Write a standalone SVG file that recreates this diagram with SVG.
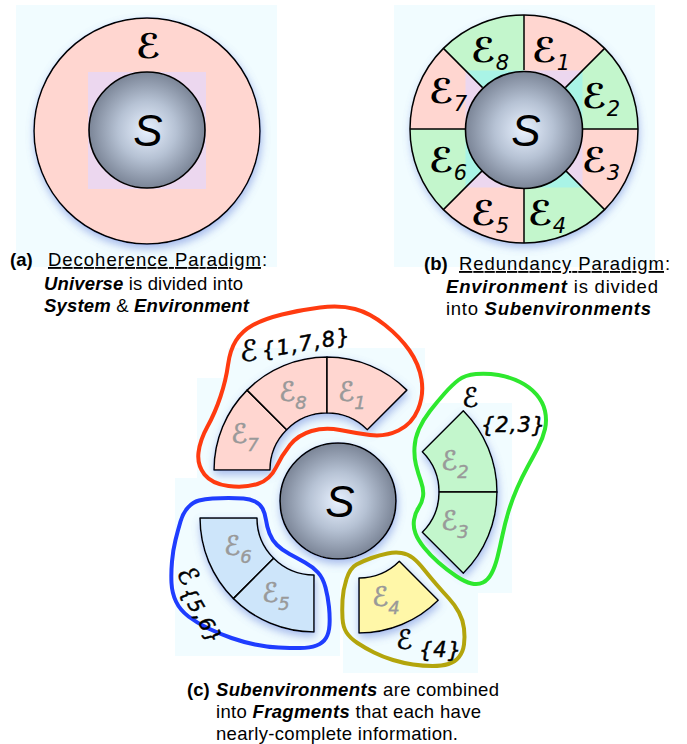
<svg xmlns="http://www.w3.org/2000/svg" width="687" height="744" viewBox="0 0 687 744">
<style>
.bg{fill:#f1fcff}
.pk{fill:#ffd6d0}
.gr{fill:#c3f6cc}
.seg{stroke:#000;stroke-width:1.5;stroke-linejoin:round}
.div{stroke:#000;stroke-width:1.5}
.sc{fill:url(#sg);stroke:#000;stroke-width:1.6}
.S{font-family:"Liberation Sans",Arial,sans-serif;font-style:italic;font-size:44px;text-anchor:middle;fill:#000}
.E{font-family:"DejaVu Sans",sans-serif;fill:#000}
.Eb{font-size:34px;font-weight:bold}
.sb{font-size:21px;font-style:italic}
.Eg{font-size:27px;fill:#999;stroke:#999;stroke-width:0.6}
.sg{font-size:18px;font-style:italic;fill:#999;stroke:#999;stroke-width:0.4}
.hw{stroke:#000;stroke-width:0.5}
.cap{font-family:"Liberation Sans",Arial,sans-serif;font-size:18.5px;fill:#000}
.bi{font-weight:bold;font-style:italic}
.blob{fill:none;stroke-width:4;stroke-linejoin:round}
</style>
<defs>
<radialGradient id="sg" cx="50%" cy="50%" r="50%">
<stop offset="0" stop-color="#e8f1ff"/>
<stop offset="0.5" stop-color="#b6c2d4"/>
<stop offset="1" stop-color="#7b8597"/>
</radialGradient>
<filter id="sh" x="-25%" y="-25%" width="150%" height="160%">
<feGaussianBlur in="SourceAlpha" stdDeviation="4"/>
<feOffset dx="1" dy="4" result="b"/>
<feFlood flood-color="#5a78d8" flood-opacity="0.5"/>
<feComposite in2="b" operator="in"/>
<feMerge><feMergeNode/><feMergeNode in="SourceGraphic"/></feMerge>
</filter>
<clipPath id="sqb"><rect x="465.5" y="70.5" width="117" height="117"/></clipPath>
<path id="w1" d="M524,129 L524,15 A114,114 0 0 1 604.6,48.4 Z"/>
<path id="w2" d="M524,129 L604.6,48.4 A114,114 0 0 1 638,129 Z"/>
<path id="w3" d="M524,129 L638,129 A114,114 0 0 1 604.6,209.6 Z"/>
<path id="w4" d="M524,129 L604.6,209.6 A114,114 0 0 1 524,243 Z"/>
<path id="w5" d="M524,129 L524,243 A114,114 0 0 1 443.4,209.6 Z"/>
<path id="w6" d="M524,129 L443.4,209.6 A114,114 0 0 1 410,129 Z"/>
<path id="w7" d="M524,129 L410,129 A114,114 0 0 1 443.4,48.4 Z"/>
<path id="w8" d="M524,129 L443.4,48.4 A114,114 0 0 1 524,15 Z"/>
</defs>

<!-- backgrounds -->
<g id="backgrounds">
<rect class="bg" x="16" y="5" width="261" height="262"/>
<rect class="bg" x="394" y="5" width="261" height="262"/>
<rect class="bg" x="228" y="348" width="197" height="32"/>
<rect class="bg" x="197" y="378" width="228" height="100"/>
<rect class="bg" x="262" y="430" width="250" height="150"/>
<rect class="bg" x="405" y="403" width="107" height="190"/>
<rect class="bg" x="175" y="478" width="165" height="178"/>
<rect class="bg" x="343" y="545" width="135" height="128"/>
</g>

<!-- panel (a) -->
<g id="panel-a">
<g id="a-env">
<circle class="pk seg" cx="147" cy="131" r="113" filter="url(#sh)"/>
<text class="E" x="136" y="58" font-size="34" font-weight="bold">ℰ</text>
</g>
<rect x="88" y="72" width="118" height="117" fill="#ecd7ef"/>
<g id="a-system">
<circle class="sc" cx="147" cy="130" r="58"/>
<text class="S" x="148" y="146">S</text>
</g>
</g>

<!-- panel (b) -->
<g id="panel-b">
<g id="b-ring" filter="url(#sh)">
<use href="#w1" class="pk"/><use href="#w2" class="gr"/><use href="#w3" class="pk"/><use href="#w4" class="gr"/>
<use href="#w5" class="pk"/><use href="#w6" class="gr"/><use href="#w7" class="pk"/><use href="#w8" class="gr"/>
</g>
<g clip-path="url(#sqb)">
<use href="#w1" fill="#ecd7ef"/><use href="#w2" fill="#a9f4e6"/><use href="#w3" fill="#ecd7ef"/><use href="#w4" fill="#a9f4e6"/>
<use href="#w5" fill="#ecd7ef"/><use href="#w6" fill="#a9f4e6"/><use href="#w7" fill="#ecd7ef"/><use href="#w8" fill="#a9f4e6"/>
</g>
<g class="div">
<line x1="524" y1="70" x2="524" y2="15"/>
<line x1="565.4" y1="87.6" x2="604.6" y2="48.4"/>
<line x1="582.5" y1="129" x2="638" y2="129"/>
<line x1="565.4" y1="170.4" x2="604.6" y2="209.6"/>
<line x1="524" y1="188" x2="524" y2="243"/>
<line x1="482.6" y1="170.4" x2="443.4" y2="209.6"/>
<line x1="465.5" y1="129" x2="410" y2="129"/>
<line x1="482.6" y1="87.6" x2="443.4" y2="48.4"/>
</g>
<circle cx="524" cy="129" r="114" fill="none" stroke="#000" stroke-width="1.5"/>
<g id="b-labels" class="E">
<text x="471" y="62"><tspan class="Eb">ℰ</tspan><tspan class="sb" dy="8">8</tspan></text>
<text x="532" y="62"><tspan class="Eb">ℰ</tspan><tspan class="sb" dy="8">1</tspan></text>
<text x="429" y="103"><tspan class="Eb">ℰ</tspan><tspan class="sb" dy="8">7</tspan></text>
<text x="582" y="108"><tspan class="Eb">ℰ</tspan><tspan class="sb" dy="8">2</tspan></text>
<text x="429" y="172"><tspan class="Eb">ℰ</tspan><tspan class="sb" dy="8">6</tspan></text>
<text x="582" y="172"><tspan class="Eb">ℰ</tspan><tspan class="sb" dy="8">3</tspan></text>
<text x="471" y="225"><tspan class="Eb">ℰ</tspan><tspan class="sb" dy="8">5</tspan></text>
<text x="528" y="225"><tspan class="Eb">ℰ</tspan><tspan class="sb" dy="8">4</tspan></text>
</g>
<g id="b-system">
<circle class="sc" cx="524" cy="130" r="58.5"/>
<text class="S" x="526" y="146">S</text>
</g>
</g>

<!-- panel (c) -->
<g id="panel-c">
<g id="c-system" filter="url(#sh)">
<circle class="sc" cx="338" cy="501" r="58"/>
</g>
<text class="S" x="340" y="517">S</text>

<g id="frag-178" filter="url(#sh)">
<path class="pk seg" d="M214,470 A113,113 0 0 1 247.1,390.1 L286.7,429.7 A57,57 0 0 0 270,470 Z"/>
<path class="pk seg" d="M247.1,390.1 A113,113 0 0 1 327,357 L327,413 A57,57 0 0 0 286.7,429.7 Z"/>
<path class="pk seg" d="M327,357 A113,113 0 0 1 406.9,390.1 L367.3,429.7 A57,57 0 0 0 327,413 Z"/>
</g>
<g id="frag-23" filter="url(#sh)">
<path class="gr seg" d="M463.3,410.7 A115,115 0 0 1 497,492 L439,492 A57,57 0 0 0 422.3,451.7 Z"/>
<path class="gr seg" d="M497,492 A115,115 0 0 1 463.3,573.3 L422.3,532.3 A57,57 0 0 0 439,492 Z"/>
</g>
<g id="frag-4" filter="url(#sh)">
<path class="seg" fill="#fff7a8" d="M438.2,600.2 A112,112 0 0 1 359,633 L359,578 A57,57 0 0 0 399.3,561.3 Z"/>
</g>
<g id="frag-56" filter="url(#sh)">
<path class="seg" fill="#cde5fa" d="M200,518 L257,518 A57,57 0 0 0 273.7,558.3 L233.4,598.6 A114,114 0 0 1 200,518 Z"/>
<path class="seg" fill="#cde5fa" d="M233.4,598.6 L273.7,558.3 A57,57 0 0 0 314,575 L314,632 A114,114 0 0 1 233.4,598.6 Z"/>
</g>

<g id="c-piece-labels" class="E">
<text x="231" y="443"><tspan class="Eg">ℰ</tspan><tspan class="sg" dy="8">7</tspan></text>
<text x="279" y="401"><tspan class="Eg">ℰ</tspan><tspan class="sg" dy="8">8</tspan></text>
<text x="338" y="401"><tspan class="Eg">ℰ</tspan><tspan class="sg" dy="8">1</tspan></text>
<text x="441" y="470"><tspan class="Eg">ℰ</tspan><tspan class="sg" dy="8">2</tspan></text>
<text x="441" y="530"><tspan class="Eg">ℰ</tspan><tspan class="sg" dy="8">3</tspan></text>
<text x="224" y="555"><tspan class="Eg">ℰ</tspan><tspan class="sg" dy="8">6</tspan></text>
<text x="262" y="602"><tspan class="Eg">ℰ</tspan><tspan class="sg" dy="8">5</tspan></text>
<text x="372" y="606"><tspan class="Eg">ℰ</tspan><tspan class="sg" dy="8">4</tspan></text>
</g>

<g id="fragments">
<path class="blob" stroke="#ff3b10" d="M220.5,396.5 Q226,380 228,365 Q230,350 236,340.5 Q242,331 253,325 Q264,319 282,314.5 Q300,310 320,307.5 Q340,305 355,309 Q370,313 385,325 Q400,337 409.5,350.5 Q419,364 421.5,379.5 Q424,395 418,409.5 Q412,424 398.5,430.5 Q385,437 370,435 Q355,433 340,430 Q325,427 311.5,431 Q298,435 290,445 Q282,455 276,467.5 Q270,480 257.5,484 Q245,488 228.5,486 Q212,484 204.5,474.5 Q197,465 198.5,452.5 Q200,440 207.5,426.5 Q215,413 220.5,396.5 Z"/>
<path class="blob" stroke="#2ee82e" d="M458.5,380 Q465,375 476,374 Q487,373 498.5,375 Q510,377 520,382 Q530,387 536.5,394.5 Q543,402 545,411 Q547,420 545,429 Q543,438 538,447.5 Q533,457 527.5,467 Q522,477 517,488.5 Q512,500 508.5,511.5 Q505,523 502.5,535 Q500,547 497.5,557 Q495,567 491.5,573.5 Q488,580 483,582.5 Q478,585 471.5,583.5 Q465,582 456,576 Q447,570 438.5,562.5 Q430,555 424,547.5 Q418,540 415.5,533.5 Q413,527 414,520 Q415,513 418.5,508 Q422,503 423,496.5 Q424,490 421,481.5 Q418,473 416,465 Q414,457 414.5,447.5 Q415,438 419,429 Q423,420 430,411 Q437,402 444.5,393.5 Q452,385 458.5,380 Z"/>
<path class="blob" stroke="#1f3dff" d="M188,507.5 Q193,502 199,500.5 Q205,499 212.5,498.5 Q220,498 228.5,498 Q237,498 243.5,498.5 Q250,499 255,501.5 Q260,504 262.5,508.5 Q265,513 266,520 Q267,527 269.5,533.5 Q272,540 277,545 Q282,550 289.5,554 Q297,558 305,562.5 Q313,567 318,572.5 Q323,578 325.5,587.5 Q328,597 329,607 Q330,617 329.5,625 Q329,633 326,638 Q323,643 316.5,645.5 Q310,648 300,648 Q290,648 278.5,647.5 Q267,647 255,644.5 Q243,642 231.5,638 Q220,634 208.5,628.5 Q197,623 188.5,616.5 Q180,610 176,601.5 Q172,593 171.5,583 Q171,573 172,561.5 Q173,550 175.5,540 Q178,530 180.5,521.5 Q183,513 188,507.5 Z"/>
<path class="blob" stroke="#b3a50c" d="M346.5,579 Q350,568 356.5,564.5 Q363,561 371.5,558 Q380,555 387.5,553.5 Q395,552 401.5,553 Q408,554 413,558 Q418,562 424,569.5 Q430,577 436.5,584.5 Q443,592 449,598.5 Q455,605 459,612.5 Q463,620 464,628.5 Q465,637 464,644.5 Q463,652 459,657 Q455,662 448.5,664 Q442,666 432.5,666 Q423,666 413,664.5 Q403,663 393,660 Q383,657 374,652.5 Q365,648 357.5,643 Q350,638 346.5,632.5 Q343,627 342.5,618.5 Q342,610 342.5,600 Q343,590 346.5,579 Z"/>
</g>

<g id="fragment-labels" class="E hw">
<text x="240" y="361" font-size="29">ℰ</text>
<text x="263" y="358" font-size="21" font-style="italic" letter-spacing="1.5" transform="rotate(-10 263 358)">{1,7,8}</text>
<text x="462" y="407" font-size="27">ℰ</text>
<text x="481" y="432" font-size="21" font-style="italic" letter-spacing="1">{2,3}</text>
<text transform="translate(176,573) rotate(60)"><tspan font-size="27">ℰ</tspan><tspan font-size="20" font-style="italic" dx="2" dy="6" letter-spacing="1">{5,6}</tspan></text>
<text x="396" y="649" font-size="27">ℰ</text>
<text x="419" y="657" font-size="21" font-style="italic" letter-spacing="1">{4}</text>
</g>
</g>

<!-- captions -->
<g id="captions" class="cap">
<text x="10" y="266" font-weight="bold">(a)</text>
<text x="48" y="266" textLength="213" text-decoration="underline">Decoherence Paradigm</text>
<text x="262" y="266">:</text>
<text x="44" y="290" textLength="199"><tspan class="bi">Universe</tspan> is divided into</text>
<text x="44" y="312" textLength="205"><tspan class="bi">System</tspan> &amp; <tspan class="bi">Environment</tspan></text>

<text x="424" y="270" font-weight="bold">(b)</text>
<text x="459" y="270" textLength="205" text-decoration="underline">Redundancy Paradigm</text>
<text x="665" y="270">:</text>
<text x="446" y="293" textLength="212"><tspan class="bi">Environment</tspan> is divided</text>
<text x="446" y="315" textLength="205">into <tspan class="bi">Subenvironments</tspan></text>

<text x="187" y="696" font-weight="bold">(c)</text>
<text x="216" y="696" textLength="283"><tspan class="bi">Subenvironments</tspan> are combined</text>
<text x="216" y="718" textLength="265">into <tspan class="bi">Fragments</tspan> that each have</text>
<text x="216" y="740" textLength="242">nearly-complete information.</text>
</g>
</svg>
